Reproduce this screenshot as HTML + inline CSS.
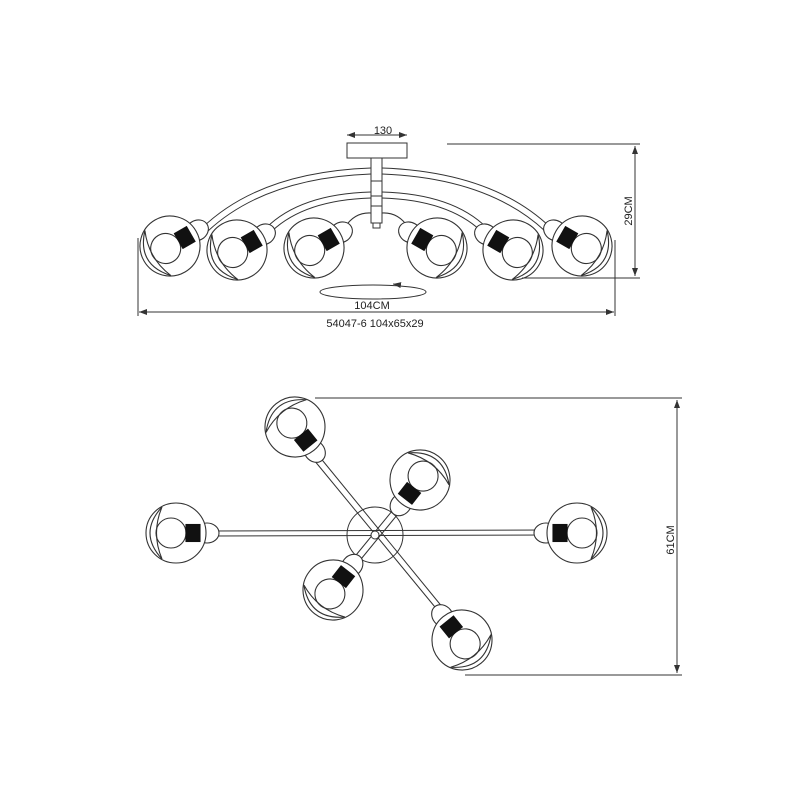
<!DOCTYPE html>
<html><head><meta charset="utf-8"><style>
html,body{margin:0;padding:0;background:#fff;}
svg{display:block;}
text{font-family:"Liberation Sans",sans-serif;fill:#222;}
</style></head><body>
<svg width="800" height="800" viewBox="0 0 800 800" xmlns="http://www.w3.org/2000/svg">
<defs>
<g id="lamp" fill="none" stroke="#333" stroke-width="1.1">
  <ellipse cx="-31" cy="0" rx="12" ry="10" fill="#fff"/>
  <circle cx="0" cy="0" r="30" fill="#fff"/>
  <path d="M14,-26 Q38,0 14,26 Q25,0 14,-26 Z"/>
  <circle cx="5" cy="0" r="15"/>
  <rect x="-24" y="-8.5" width="14" height="17" fill="#111" stroke="#111"/>
</g>
<marker id="ar" markerWidth="8" markerHeight="6" refX="8" refY="3" orient="auto"><path d="M0,0 L8,3 L0,6 Z" fill="#333"/></marker>
</defs>

<g fill="none" stroke="#333" stroke-width="1">
  <rect x="347" y="143" width="60" height="15"/>
  <rect x="371" y="158" width="11" height="65"/>
  <line x1="371" y1="181" x2="382" y2="181"/>
  <line x1="371" y1="196" x2="382" y2="196"/>
  <line x1="371" y1="206" x2="382" y2="206"/>
  <rect x="373" y="223" width="7" height="5"/>
  <path d="M371,168 Q260,172 202,228"/>
  <path d="M371,174 Q265,178 208,231"/>
  <path d="M382,168 Q493,172 551,228"/>
  <path d="M382,174 Q488,178 545,231"/>
  <path d="M371,192 Q300,194 266,228"/>
  <path d="M371,198 Q305,200 272,231"/>
  <path d="M382,192 Q453,194 487,228"/>
  <path d="M382,198 Q448,200 481,231"/>
  <path d="M371,213 Q355,212 345,227"/>
  <path d="M382,213 Q398,212 408,227"/>
</g>
<use href="#lamp" transform="translate(170,246) rotate(150)"/>
<use href="#lamp" transform="translate(237,250) rotate(150)"/>
<use href="#lamp" transform="translate(314,248) rotate(150)"/>
<use href="#lamp" transform="translate(437,248) rotate(30)"/>
<use href="#lamp" transform="translate(513,250) rotate(30)"/>
<use href="#lamp" transform="translate(582,246) rotate(30)"/>

<g fill="none" stroke="#333" stroke-width="1">
  <line x1="347" y1="135" x2="407" y2="135" marker-end="url(#ar)"/>
  <line x1="407" y1="135" x2="347" y2="135" marker-end="url(#ar)"/>
  <line x1="447" y1="144" x2="640" y2="144"/>
  <line x1="522" y1="278" x2="640" y2="278"/>
  <line x1="635" y1="146" x2="635" y2="276" marker-end="url(#ar)"/>
  <line x1="635" y1="276" x2="635" y2="146" marker-end="url(#ar)"/>
  <line x1="138" y1="238" x2="138" y2="316"/>
  <line x1="615" y1="240" x2="615" y2="316"/>
  <line x1="139" y1="312" x2="614" y2="312" marker-end="url(#ar)"/>
  <line x1="614" y1="312" x2="139" y2="312" marker-end="url(#ar)"/>
  <ellipse cx="373" cy="292" rx="53" ry="7"/>
  <path d="M400,285 L393,284" marker-end="url(#ar)"/>
</g>
<text x="383" y="134" font-size="11" text-anchor="middle">130</text>
<text x="372" y="309" font-size="11" text-anchor="middle">104CM</text>
<text x="375" y="327" font-size="11" text-anchor="middle">54047-6  104x65x29</text>
<text transform="translate(632,211) rotate(-90)" font-size="11" text-anchor="middle">29CM</text>

<g fill="none" stroke="#333" stroke-width="1">
  <circle cx="375" cy="535" r="28"/>
  <line x1="212" y1="531" x2="548" y2="530"/>
  <line x1="212" y1="536" x2="548" y2="535"/>
  <line x1="309" y1="454" x2="444" y2="618"/>
  <line x1="314" y1="450" x2="448" y2="614"/>
  <line x1="397" y1="505" x2="352" y2="560"/>
  <line x1="402" y1="509" x2="357" y2="564"/>
  <circle cx="375" cy="535" r="4" fill="#fff"/>
  <line x1="315" y1="398" x2="682" y2="398"/>
  <line x1="465" y1="675" x2="682" y2="675"/>
  <line x1="677" y1="400" x2="677" y2="673" marker-end="url(#ar)"/>
  <line x1="677" y1="673" x2="677" y2="400" marker-end="url(#ar)"/>
</g>
<use href="#lamp" transform="translate(176,533) rotate(180)"/>
<use href="#lamp" transform="translate(577,533) rotate(0)"/>
<use href="#lamp" transform="translate(295,427) rotate(-129)"/>
<use href="#lamp" transform="translate(462,640) rotate(51)"/>
<use href="#lamp" transform="translate(420,480) rotate(-52)"/>
<use href="#lamp" transform="translate(333,590) rotate(128)"/>
<text transform="translate(674,540) rotate(-90)" font-size="11" text-anchor="middle">61CM</text>
</svg>
</body></html>
